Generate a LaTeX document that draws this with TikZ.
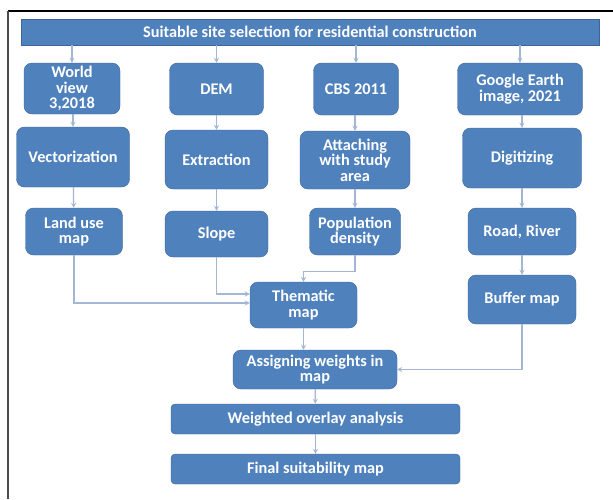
\documentclass[tikz,border=0pt]{standalone}
\usepackage{fontspec}
\setmainfont{Carlito}
\usepackage{tikz}

\definecolor{boxblue}{RGB}{79,129,189}
\definecolor{boxedge}{RGB}{62,101,152}
\definecolor{linkblue}{RGB}{163,183,212}

\begin{document}
\begin{tikzpicture}[x=1pt,y=-1pt,
  box/.style={draw=boxedge,fill=boxblue,text=white,rounded corners=8pt,align=center,
    font=\fontsize{16.3}{15.5}\selectfont\bfseries,inner sep=0pt},
  conn/.style={linkblue,line width=1.2pt,->,>=stealth}]
\useasboundingbox (0,0) rectangle (613,499);
\fill[white] (0,0) rectangle (613,499);
\draw[line width=1.4pt] (8,11) -- (613,11);
\draw[black!70,line width=2.5pt] (8,11) -- (8,499);

\node[box,sharp corners,minimum width=578pt,minimum height=26pt] (title) at (310,32) {Suitable site selection for residential construction};

\node[box,minimum width=96pt,minimum height=51pt] (wv) at (72,88.5) {World\\view\\3,2018};
\node[box,minimum width=94pt,minimum height=52pt] (dem) at (216.5,89) {DEM};
\node[box,minimum width=85pt,minimum height=52pt] (cbs) at (356,89) {CBS 2011};
\node[box,minimum width=125pt,minimum height=52pt] (ge) at (520,89) {Google Earth\\image, 2021};

\node[box,minimum width=113pt,minimum height=60pt] (vec) at (73,157) {Vectorization};
\node[box,minimum width=103pt,minimum height=59pt] (ext) at (216.5,159.5) {Extraction};
\node[box,minimum width=110pt,minimum height=58pt] (att) at (355,160) {Attaching\\with study\\area};
\node[box,minimum width=119pt,minimum height=60pt] (dig) at (522,158) {Digitizing};

\node[box,minimum width=97pt,minimum height=47pt] (lu) at (74,231.5) {Land use\\map};
\node[box,minimum width=103pt,minimum height=46pt] (slope) at (216.5,234) {Slope};
\node[box,minimum width=91pt,minimum height=47pt] (pop) at (355,231.5) {Population\\density};
\node[box,minimum width=108pt,minimum height=47pt] (road) at (522,231.5) {Road, River};
\node[box,minimum width=108pt,minimum height=49pt] (buf) at (522,299.5) {Buffer map};

\node[box,minimum width=107pt,minimum height=46pt] (them) at (303.5,305) {Thematic\\map};
\node[box,minimum width=164pt,minimum height=39pt] (asg) at (315,369.5) {Assigning weights in\\map};
\node[box,rounded corners=4pt,minimum width=289pt,minimum height=30pt] (wo) at (315.5,419) {Weighted overlay analysis};
\node[box,rounded corners=4pt,minimum width=289pt,minimum height=30pt] (fin) at (315.5,469) {Final suitability map};

\foreach \n in {wv,dem,cbs,ge}{
  \draw[conn] (title.south -| \n.north) -- (\n.north);
}
\draw[conn] (wv.south -| vec.north) -- (vec.north);
\draw[conn] (dem) -- (ext);
\draw[conn] (cbs.south -| att.north) -- (att.north);
\draw[conn] (ge.south -| dig.north) -- (dig.north);
\draw[conn] (vec) -- (lu);
\draw[conn] (ext) -- (slope);
\draw[conn] (att) -- (pop);
\draw[conn] (dig) -- (road);
\draw[conn] (road) -- (buf);

\draw[conn] (lu.south) |- ([yshift=2pt]them.west);
\draw[conn] (slope.south) |- ([yshift=11pt]them.west);
\draw[conn] (pop.south) -- ++(0,16) -| (them.north);
\draw[conn] (them.south) -- (them.south |- asg.north);
\draw[conn] (buf.south) |- (asg.east);
\draw[conn] (asg) -- (wo);
\draw[conn] (wo) -- (fin);
\end{tikzpicture}
\end{document}
